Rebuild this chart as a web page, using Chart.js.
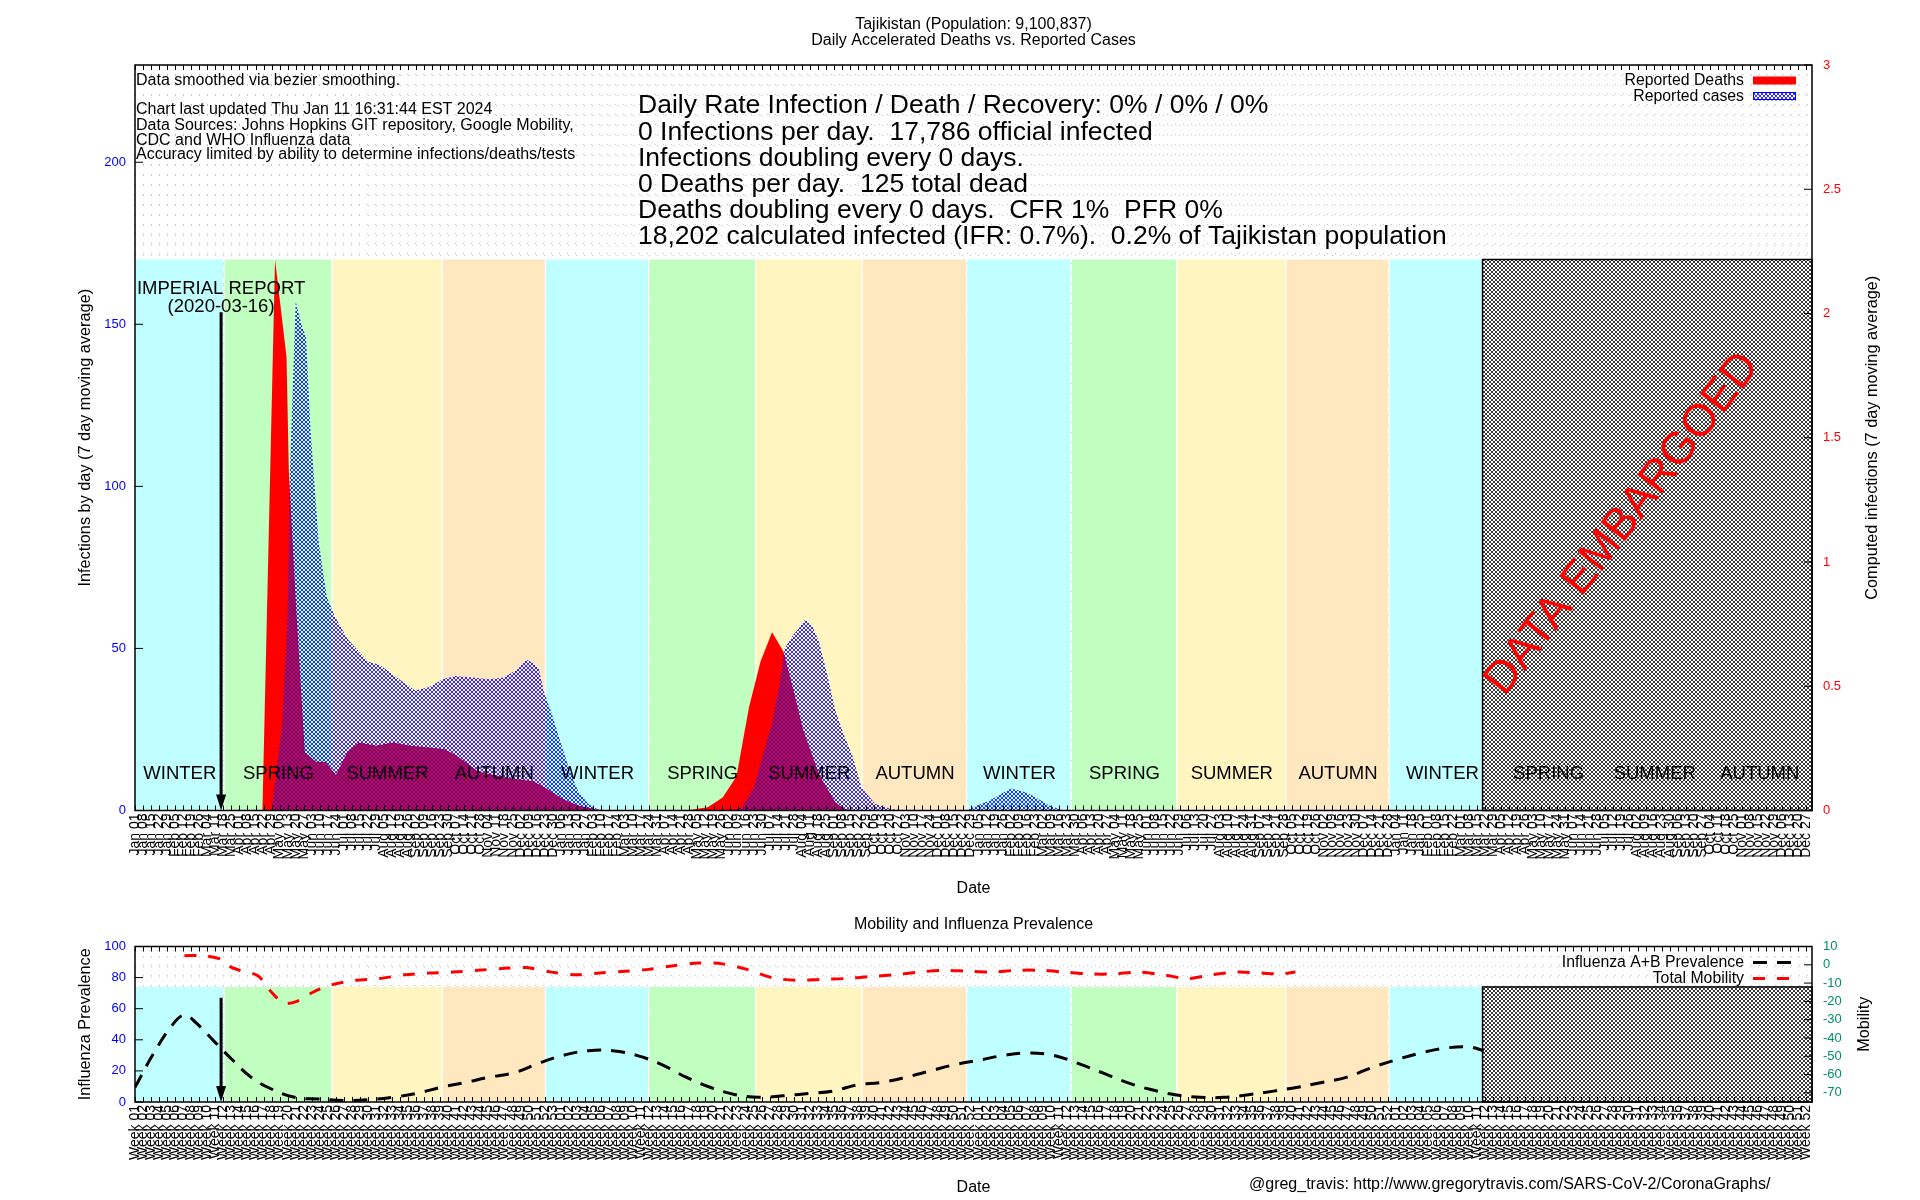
<!DOCTYPE html>
<html><head><meta charset="utf-8">
<script src="https://cdn.jsdelivr.net/npm/chart.js@4.4.1/dist/chart.umd.min.js"></script>
<style>
html,body{margin:0;padding:0;background:#fff;width:1920px;height:1200px;overflow:hidden}
.w{position:absolute;left:0;width:1920px}
</style></head><body>
<div class="w" style="top:0;height:905px"><canvas id="a"></canvas></div>
<div class="w" style="top:905px;height:295px"><canvas id="b"></canvas></div>
<script>
// ---------- DATA (x = days since 2020-01-01) ----------
const deathDays   = [0,111,122,132,134,140,145,148,158,166,175,185,195,210,225,240,254,269,280,299,325,347,360,373,387,402,416,480,499,512,524,535,545,555,565,573,582,596,610,618,630,1174];
const deathValues = [0,0,170,140,105,65,35,18,15,15,11,18,21,20,21,20,19.5,19,17,12,10,9,6.5,3.5,1.5,0.3,0,0,1,4,10.5,32,46,55,49,38,25,11,2.6,0.5,0,0];

const caseDays   = [0,119,128,133,135,140,145,149,153,160,167,174,185,203,213,228,244,256,268,279,294,309,321,333,341,347,352,356,363,370,379,386,395,405,
                    520,529,539,547,555,561,566,573,578,584,590,596,603,610,618,625,633,645,659,672,
                    723,744,763,776,785,797,809,1174];
const caseValues = [0,0,26,60,105,157,150,146,117,83,66,60,53,46,45,41,37,38,40.5,41.5,41,40.5,41,43.5,46.5,45.5,43.5,37,30,22,12,6,2,0,
                    0,1,7,17,27,38,50,54,56,59,57,52,42,31,23,17,7,2,0.5,0,
                    0,3,6.8,5.6,4,1.5,0,0];

const fluDays   = [0,16,32,43,53,69,85,101,117,139,160,181,203,224,245,267,288,309,331,352,373,395,416,437,459,480,501,523,544,565,587,608,629,650,672,693,714,736,757,778,800,821,842,864,885,906,928,949,970,992,1013,1034,1056,1077,1098,1120,1141,1162,1175];
const fluValues = [9.4,31,49,56,51,39,27,16,9,3,2,1,1.5,3,5.5,9.5,12.6,16,19,25,30,33,33,30,24,16,9.5,4.7,3,4,5.5,7,11,12.6,16,20,24,27,30,31.5,30,25,19,12.6,8,4.7,3,3,4.7,7,9.5,12.6,16,22,27,31.5,34.6,35.4,33];

const mobDays   = [43,59,75,83,91,107,119,130,141,155,171,192,213,235,256,277,299,320,341,363,384,405,427,448,469,491,512,533,555,576,597,619,640,661,683,704,725,746,768,789,810,832,853,874,896,917,938,960,981,997,1011];
const mobValues = [5,5,3,-1,-3,-6,-15,-21,-20,-15,-11,-8.5,-7.5,-5.5,-4.5,-4,-3,-2,-1.5,-4,-5.5,-4.5,-3.5,-2.5,-0.5,1,0.5,-2.5,-7,-8.5,-8,-7.5,-6.5,-5.5,-4,-3,-3.5,-4,-3,-3,-4,-5,-5,-4,-5.5,-7.5,-5.5,-4,-4.5,-5,-4];

const seasonStarts = [0,78,172,268,358,448,541,634,725,816,908,1003,1093,1185,1278,1370];
const seasonNames  = ['WINTER','SPRING','SUMMER','AUTUMN','WINTER','SPRING','SUMMER','AUTUMN','WINTER','SPRING','SUMMER','AUTUMN','WINTER','SPRING','SUMMER','AUTUMN'];
const seasonColors = {WINTER:'#c0ffff', SPRING:'#c0ffc0', SUMMER:'#fff5c0', AUTUMN:'#ffe8c0'};

const leftTicksTop  = [0,50,100,150,200];
const rightTicksTop = [0,0.5,1,1.5,2,2.5,3];
const leftTicksBot  = [0,20,40,60,80,100];
const rightTicksBot = [10,0,-10,-20,-30,-40,-50,-60,-70];

const axisEndDay = 1461, embargoStart = 1174, imperialDay = 75, tickStepDays = 7;

const infoLines = ['Data smoothed via bezier smoothing.','','Chart last updated Thu Jan 11 16:31:44 EST 2024',
  'Data Sources: Johns Hopkins GIT repository, Google Mobility,','CDC and WHO Influenza data',
  'Accuracy limited by ability to determine infections/deaths/tests'];
const statLines = ['Daily Rate Infection / Death / Recovery: 0% / 0% / 0%',
  '0 Infections per day.  17,786 official infected',
  'Infections doubling every 0 days.',
  '0 Deaths per day.  125 total dead',
  'Deaths doubling every 0 days.  CFR 1%  PFR 0%',
  '18,202 calculated infected (IFR: 0.7%).  0.2% of Tajikistan population'];

// ---------- helpers ----------
const FONT = '"Liberation Sans", Arial, Helvetica, sans-serif';
Chart.defaults.font.family = FONT;
const MON = ['Jan','Feb','Mar','Apr','May','Jun','Jul','Aug','Sep','Oct','Nov','Dec'];
const pad2 = n => (n<10?'0':'')+n;
const dayDate = d => new Date(Date.UTC(2020,0,1+d));
const fmtDay = d => { const t = dayDate(d); return MON[t.getUTCMonth()]+' '+pad2(t.getUTCDate()); };
function isoWeek(d){ const t = dayDate(d); const wd = t.getUTCDay()||7; t.setUTCDate(t.getUTCDate()+4-wd);
  const y0 = Date.UTC(t.getUTCFullYear(),0,1); return Math.ceil(((t-y0)/86400000+1)/7); }
const tickDays = []; for (let d=0; d<=axisEndDay; d+=tickStepDays) tickDays.push(d);
const pts = (xs, ys) => xs.map((x,i)=>({x, y:ys[i]}));
const seasonEnds = seasonStarts.map((s,i)=> i<seasonStarts.length-1 ? seasonStarts[i+1] : axisEndDay);

function pattern(canvas, size, bg, fg, cells){
  const c = document.createElement('canvas'); c.width=size; c.height=size;
  const g = c.getContext('2d');
  if (bg){ g.fillStyle=bg; g.fillRect(0,0,size,size); }
  g.fillStyle=fg; cells.forEach(([px,py])=>g.fillRect(px,py,1,1));
  return canvas.getContext('2d').createPattern(c,'repeat');
}
const X4 = [[0,0],[1,1],[2,2],[3,3],[0,3],[1,2],[2,1],[3,0]];

function bands(top){
  const out = [];
  seasonStarts.forEach((s,i)=>{
    if (s >= embargoStart) return;
    const e = seasonEnds[i] >= embargoStart ? embargoStart : seasonEnds[i] - 0.9;
    out.push({type:'line', data:[{x:s,y:top},{x:e,y:top}], fill:'origin', backgroundColor:seasonColors[seasonNames[i]],
      borderWidth:0, borderColor:'transparent', pointRadius:0, order:20, yAxisID:'y'});
  });
  return out;
}
function txt(ctx, s, x, y, size, color, align, rot){
  ctx.save(); ctx.font = size+'px '+FONT; ctx.fillStyle=color||'#000';
  ctx.textAlign=align||'left'; ctx.textBaseline='middle';
  ctx.translate(x,y); if (rot) ctx.rotate(rot); ctx.fillText(s,0,0); ctx.restore();
}
function frameAndTicks(chart, lt, rt){
  const {ctx, chartArea:a, scales} = chart;
  ctx.save(); ctx.strokeStyle='#000'; ctx.lineWidth=1;
  ctx.beginPath();
  scales.x.ticks.forEach(t=>{ const p = Math.round(scales.x.getPixelForValue(t.value))+0.5;
    ctx.moveTo(p,a.top); ctx.lineTo(p,a.top+5); ctx.moveTo(p,a.bottom); ctx.lineTo(p,a.bottom-5); });
  lt.forEach(v=>{ const p = scales.y.getPixelForValue(v); ctx.moveTo(a.left,p); ctx.lineTo(a.left+8,p); });
  rt.forEach(v=>{ const p = scales.y1.getPixelForValue(v); ctx.moveTo(a.right,p); ctx.lineTo(a.right-8,p); });
  ctx.stroke();
  ctx.lineWidth=1.5; ctx.strokeRect(a.left,a.top,a.right-a.left,a.bottom-a.top);
  ctx.restore();
}
function embargoBox(chart, top){
  const {ctx, scales:{x,y}} = chart;
  const x0=x.getPixelForValue(embargoStart), x1=x.getPixelForValue(axisEndDay), y0=y.getPixelForValue(top), y1=y.getPixelForValue(0);
  ctx.save(); ctx.strokeStyle='#000'; ctx.lineWidth=1.5; ctx.strokeRect(x0,y0,x1-x0,y1-y0); ctx.restore();
}
function arrow(chart, topVal){
  const {ctx, scales:{x,y}} = chart;
  const ax = x.getPixelForValue(imperialDay), at = y.getPixelForValue(topVal), ab = y.getPixelForValue(0);
  ctx.save(); ctx.strokeStyle='#000'; ctx.fillStyle='#000'; ctx.lineWidth=3;
  ctx.beginPath(); ctx.moveTo(ax,at); ctx.lineTo(ax,ab-8); ctx.stroke();
  ctx.beginPath(); ctx.moveTo(ax-5,ab-16); ctx.lineTo(ax,ab); ctx.lineTo(ax+5,ab-16); ctx.closePath(); ctx.fill();
  ctx.restore(); return {ax, at};
}
function xAxis(height, labelFn){
  return {type:'linear', min:0, max:axisEndDay,
    afterBuildTicks: s => { s.ticks = tickDays.map(v=>({value:v})); },
    afterFit: s => { s.height = height; },
    ticks:{autoSkip:false, minRotation:90, maxRotation:90, padding:3, color:'#000', font:{size:14}, callback: v => labelFn(v)},
    grid:{color:'#c4c4c4', lineWidth:1, drawTicks:false}, border:{display:false, dash:[1,9]}};
}
function yAxis(pos, min, max, tickVals, color, width){
  return {type:'linear', position:pos, min, max,
    afterBuildTicks: s => { s.ticks = tickVals.map(v=>({value:v})); },
    afterFit: s => { s.width = width; },
    ticks:{color, font:{size:13}, padding: pos==='left'?9:11, callback: v => String(v)},
    grid:{display:false, drawTicks:false}, border:{display:false}};
}
function gridAxis(n){
  return {type:'linear', position:'left', min:0, max:n,
    afterBuildTicks: s => { const t=[]; for(let i=0;i<=n;i++) t.push({value:i}); s.ticks=t; },
    afterFit: s => { s.width = 0; },
    ticks:{display:false}, grid:{color:'#c4c4c4', lineWidth:1, drawTicks:false}, border:{display:false, dash:[1,7]}};
}

// ---------- TOP CHART ----------
const cA = document.getElementById('a');
const bluePat = pattern(cA, 4, null, 'rgba(0,0,255,0.8)', X4);
const embPatA = pattern(cA, 4, '#ffffff', '#3a3a3a', X4);
const bandTopA = 170;

new Chart(cA, {
  type:'line',
  data:{datasets:[
    ...bands(bandTopA),
    {type:'line', data:[{x:embargoStart,y:bandTopA},{x:axisEndDay,y:bandTopA}], fill:'origin', backgroundColor:embPatA, borderWidth:0, borderColor:'transparent', pointRadius:0, order:19, yAxisID:'y'},
    {label:'Reported Deaths', data:pts(deathDays,deathValues), fill:'origin', backgroundColor:'#ff0000', borderWidth:0, borderColor:'transparent', pointRadius:0, tension:0, order:2, yAxisID:'y'},
    {label:'Reported cases', data:pts(caseDays,caseValues), fill:'origin', backgroundColor:bluePat, borderWidth:0, borderColor:'transparent', pointRadius:0, tension:0, order:1, yAxisID:'y'}
  ]},
  options:{
    responsive:true, maintainAspectRatio:false, animation:false, devicePixelRatio:1, events:[],
    layout:{padding:{top:65,left:0,right:0,bottom:0}},
    plugins:{legend:{display:false}, title:{display:false}, tooltip:{enabled:false}},
    scales:{
      x: xAxis(94.5, fmtDay),
      y: yAxis('left', 0, 230, leftTicksTop, '#0000ff', 135),
      yg: gridAxis(75),
      y1: yAxis('right', 0, 3, rightTicksTop, '#ff0000', 108)
    }
  },
  plugins:[{
    id:'topDecor',
    afterDatasetsDraw(chart){
      const {ctx, scales:{x,y}} = chart;
      embargoBox(chart, bandTopA);
      seasonStarts.forEach((s,i)=>{ const e=seasonEnds[i]; if (e-s<40) return;
        txt(ctx, seasonNames[i], x.getPixelForValue((s+e)/2), y.getPixelForValue(11.3), 18.5, '#000', 'center'); });
      const {ax, at} = arrow(chart, 153.7);
      txt(ctx, 'IMPERIAL REPORT', ax, at-23, 18.5, '#000', 'center');
      txt(ctx, '(2020-03-16)', ax, at-5, 18.5, '#000', 'center');
      txt(ctx, 'DATA EMBARGOED', x.getPixelForValue(1296), y.getPixelForValue(88.4), 45, '#ff0000', 'center', -52.3*Math.PI/180);
    },
    afterDraw(chart){
      const {ctx, chartArea:a} = chart;
      frameAndTicks(chart, leftTicksTop, rightTicksTop);
      const cx = (a.left+a.right)/2;
      txt(ctx, 'Tajikistan (Population: 9,100,837)', cx, 24.5, 16, '#000', 'center');
      txt(ctx, 'Daily Accelerated Deaths vs. Reported Cases', cx, 40.5, 16, '#000', 'center');
      const iy = [80.5,95,110,125.5,140.5,155];
      infoLines.forEach((s,i)=>{ if (s) txt(ctx, s, a.left+1, iy[i], 16, '#000', 'left'); });
      statLines.forEach((s,i)=> txt(ctx, s, 638, 106+i*26.2, 26.5, '#000', 'left'));
      // legend
      txt(ctx, 'Reported Deaths', 1744, 80.5, 15.8, '#000', 'right');
      txt(ctx, 'Reported cases', 1744, 96.5, 15.8, '#000', 'right');
      ctx.save();
      ctx.fillStyle='#ff0000'; ctx.fillRect(1753,76.5,43,8);
      ctx.fillStyle=bluePat; ctx.fillRect(1753,92.5,43,8); ctx.strokeStyle='#0000ff'; ctx.lineWidth=1; ctx.strokeRect(1753.5,92.5,42,7);
      ctx.restore();
      // axis titles
      txt(ctx, 'Infections by day (7 day moving average)', 85.7, (a.top+a.bottom)/2, 16.3, '#000', 'center', -Math.PI/2);
      txt(ctx, 'Computed infections (7 day moving average)', 1873, (a.top+a.bottom)/2, 16.3, '#000', 'center', -Math.PI/2);
      txt(ctx, 'Date', cx, 889, 16, '#000', 'center');
    }
  }]
});

// ---------- BOTTOM CHART ----------
const cB = document.getElementById('b');
const embPatB = pattern(cB, 4, '#ffffff', '#3a3a3a', X4);
const bandTopB = 74;

new Chart(cB, {
  type:'line',
  data:{datasets:[
    ...bands(bandTopB),
    {type:'line', data:[{x:embargoStart,y:bandTopB},{x:axisEndDay,y:bandTopB}], fill:'origin', backgroundColor:embPatB, borderWidth:0, borderColor:'transparent', pointRadius:0, order:19, yAxisID:'y'},
    {label:'Influenza A+B Prevalence', data:pts(fluDays,fluValues), fill:false, borderColor:'#000', borderWidth:3, borderDash:[14,10], pointRadius:0, tension:0.4, order:2, yAxisID:'y'},
    {label:'Total Mobility', data:pts(mobDays,mobValues), fill:false, borderColor:'#ff0000', borderWidth:3, borderDash:[12,12], pointRadius:0, tension:0.3, order:1, yAxisID:'y1'}
  ]},
  options:{
    responsive:true, maintainAspectRatio:false, animation:false, devicePixelRatio:1, events:[],
    layout:{padding:{top:41.5,left:0,right:0,bottom:0}},
    plugins:{legend:{display:false}, title:{display:false}, tooltip:{enabled:false}},
    scales:{
      x: xAxis(98, v => 'Week '+pad2(isoWeek(v))),
      y: yAxis('left', 0, 100, leftTicksBot, '#0000ff', 135),
      yg: gridAxis(16),
      y1: yAxis('right', -75, 10, rightTicksBot, '#009060', 108)
    }
  },
  plugins:[{
    id:'botDecor',
    afterDatasetsDraw(chart){
      embargoBox(chart, bandTopB);
      arrow(chart, 67);
    },
    afterDraw(chart){
      const {ctx, chartArea:a} = chart;
      frameAndTicks(chart, leftTicksBot, rightTicksBot);
      const cx = (a.left+a.right)/2;
      txt(ctx, 'Mobility and Influenza Prevalence', cx, 19.5, 16, '#000', 'center');
      txt(ctx, 'Influenza A+B Prevalence', 1744, 57.5, 15.8, '#000', 'right');
      txt(ctx, 'Total Mobility', 1744, 73.4, 15.8, '#000', 'right');
      ctx.save(); ctx.lineWidth=3;
      ctx.strokeStyle='#000'; ctx.setLineDash([14,10]); ctx.beginPath(); ctx.moveTo(1753,57.5); ctx.lineTo(1796,57.5); ctx.stroke();
      ctx.strokeStyle='#ff0000'; ctx.setLineDash([12,12]); ctx.beginPath(); ctx.moveTo(1753,73.4); ctx.lineTo(1796,73.4); ctx.stroke();
      ctx.restore();
      txt(ctx, 'Influenza Prevalence', 85.7, (a.top+a.bottom)/2, 16.3, '#000', 'center', -Math.PI/2);
      txt(ctx, 'Mobility', 1865, (a.top+a.bottom)/2, 16.3, '#000', 'center', -Math.PI/2);
      txt(ctx, 'Date', cx, 283, 16, '#000', 'center');
      txt(ctx, '@greg_travis: http://www.gregorytravis.com/SARS-CoV-2/CoronaGraphs/', 1249, 280, 16, '#000', 'left');
    }
  }]
});
</script>
</body></html>
